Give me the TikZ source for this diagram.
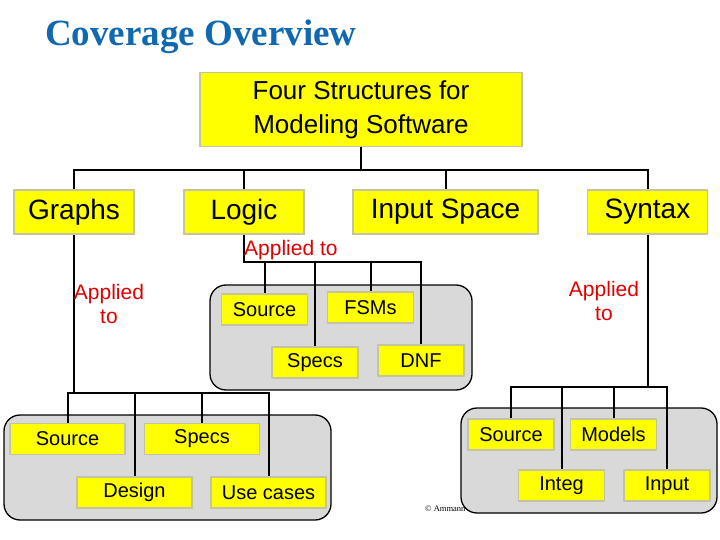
\documentclass[tikz,border=0pt]{standalone}
\usepackage{fontspec}
\setmainfont{Liberation Sans}
\newfontfamily\titlefont{Liberation Serif}
\usetikzlibrary{positioning}
\definecolor{boxyellow}{RGB}{255,255,0}
\definecolor{boxedge}{RGB}{196,196,160}
\definecolor{grpgray}{RGB}{217,217,217}
\definecolor{titleblue}{RGB}{16,104,176}
\definecolor{appliedred}{RGB}{224,0,0}
\tikzset{
  ybox/.style={draw=boxedge,line width=1.6pt,fill=boxyellow,inner sep=0pt,align=center},
  topbox/.style={ybox,minimum width=322,minimum height=74,font=\fontsize{26}{34}\selectfont},
  catbox/.style={ybox,minimum width=120,minimum height=44,font=\fontsize{28}{30}\selectfont},
  leafbox/.style={ybox,minimum width=86,minimum height=31,font=\fontsize{20}{24}\selectfont},
  wideleaf/.style={leafbox,minimum width=115},
  grpbox/.style={draw,line width=1.3pt,fill=grpgray,rounded corners=16},
  treeline/.style={line width=2pt},
  appliedlbl/.style={text=appliedred,font=\fontsize{21}{24}\selectfont,align=center,inner sep=0pt}
}

\begin{document}
\begin{tikzpicture}[x=1pt,y=-1pt]
  \useasboundingbox (0,0) rectangle (720,540);

  \node[anchor=west,inner sep=0pt,text=titleblue,font=\titlefont\bfseries\fontsize{37}{42}\selectfont] (title) at (45,37) {Coverage Overview};

  \node[topbox] (four) at (361,109.5) {Four Structures for\\Modeling Software};
  \node[catbox] (graphs) at (74,212) {Graphs};
  \node[catbox] (logic) at (244,212) {Logic};
  \node[catbox,minimum width=185] (inspace) at (445.5,212) {Input Space};
  \node[catbox] (syntax) at (647.5,212) {Syntax};
  \coordinate (topbus) at (361,170);
  \draw[treeline] (four.south) -- (topbus);
  \draw[treeline] (graphs.north) -- (graphs.north |- topbus) -- (syntax.north |- topbus) -- (syntax.north);
  \draw[treeline] (logic.north) -- (logic.north |- topbus)
                  (inspace.north) -- (inspace.north |- topbus);

  \draw[grpbox] (210,285) rectangle (472,390);
  \node[leafbox] (lsource) at (264.5,309.5) {Source};
  \node[leafbox] (lfsms) at (370.5,307.5) {FSMs};
  \node[leafbox] (lspecs) at (315,362.5) {Specs};
  \node[leafbox] (ldnf) at (421,360.5) {DNF};
  \coordinate (logicbus) at (0,262);
  \draw[treeline] (logic.south) -- (logic.south |- logicbus) -- (ldnf.north |- logicbus) -- (ldnf.north);
  \draw[treeline] (lsource.north) -- (lsource.north |- logicbus)
                  (lspecs.north) -- (lspecs.north |- logicbus)
                  (lfsms.north) -- (lfsms.north |- logicbus);
  \node[appliedlbl,anchor=west] (lapplied) at (244,250) {Applied to};

  \draw[grpbox] (4,415) rectangle (331,520);
  \node[wideleaf] (gsource) at (67.5,439) {Source};
  \node[wideleaf] (gspecs) at (202,439) {Specs};
  \node[wideleaf] (gdesign) at (134.5,492.5) {Design};
  \node[wideleaf] (gusecases) at (268.5,492.5) {Use cases};
  \coordinate (graphsbus) at (0,393);
  \draw[treeline] (graphs.south) -- (graphs.south |- graphsbus);
  \draw[treeline] (gsource.north) -- (gsource.north |- graphsbus) -- (gusecases.north |- graphsbus) -- (gusecases.north);
  \draw[treeline] (gspecs.north) -- (gspecs.north |- graphsbus)
                  (gdesign.north) -- (gdesign.north |- graphsbus);
  \node[appliedlbl] (gapplied) at (109,304) {Applied\\to};

  \node[anchor=west,inner sep=0pt,font=\titlefont\fontsize{8.5}{9}\selectfont] (copy) at (425,509) {\copyright\ Ammann};
  \draw[grpbox] (461,408) rectangle (717,513);
  \node[leafbox] (ssource) at (511,434.5) {Source};
  \node[leafbox] (smodels) at (613.5,434.5) {Models};
  \node[leafbox] (sinteg) at (561.5,485.5) {Integ};
  \node[leafbox] (sinput) at (667,485.5) {Input};
  \coordinate (syntaxbus) at (0,387);
  \draw[treeline] (syntax.south) -- (syntax.south |- syntaxbus);
  \draw[treeline] (ssource.north) -- (ssource.north |- syntaxbus) -- (sinput.north |- syntaxbus) -- (sinput.north);
  \draw[treeline] (smodels.north) -- (smodels.north |- syntaxbus)
                  (sinteg.north) -- (sinteg.north |- syntaxbus);
  \node[appliedlbl] (sapplied) at (604,301) {Applied\\to};
\end{tikzpicture}
\end{document}
